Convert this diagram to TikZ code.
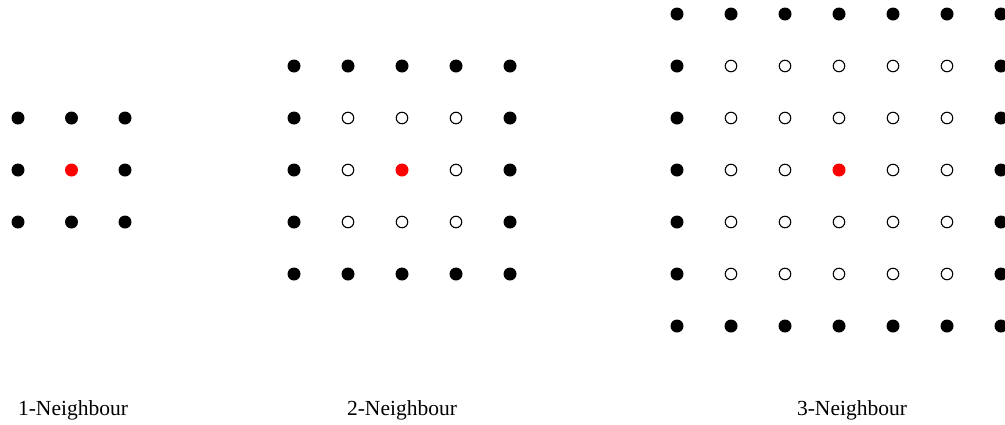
\documentclass[tikz,border=0pt]{standalone}
\usepackage{fontspec}
\setmainfont{Liberation Serif}
\begin{document}
\begin{tikzpicture}[x=1pt,y=-1pt,
  full/.style={circle,fill=black,inner sep=0pt,minimum size=13pt},
  hollow/.style={circle,draw=black,line width=1.1pt,fill=white,inner sep=0pt,minimum size=11.5pt},
  centre/.style={circle,fill=red,inner sep=0pt,minimum size=13pt},
  caption/.style={font=\fontsize{21.5}{25}\selectfont,inner sep=0pt}]
\useasboundingbox (0,0) rectangle (1005,424);
% 1-Neighbour
\foreach \i in {0,1,2}{
  \foreach \j in {0,1,2}{
    \pgfmathtruncatemacro{\ring}{max(abs(\i-1),abs(\j-1))}
    \ifnum\ring=0
      \node[centre] (a-\i-\j) at ({18+53.5*\i},{118+52*\j}) {};
    \else
      \node[full] (a-\i-\j) at ({18+53.5*\i},{118+52*\j}) {};
    \fi
  }
}
% 2-Neighbour
\foreach \i in {0,...,4}{
  \foreach \j in {0,...,4}{
    \pgfmathtruncatemacro{\ring}{max(abs(\i-2),abs(\j-2))}
    \ifnum\ring=0
      \node[centre] (b-\i-\j) at ({294+54*\i},{66+52*\j}) {};
    \else\ifnum\ring=2
      \node[full] (b-\i-\j) at ({294+54*\i},{66+52*\j}) {};
    \else
      \node[hollow] (b-\i-\j) at ({294+54*\i},{66+52*\j}) {};
    \fi\fi
  }
}
% 3-Neighbour
\foreach \i in {0,...,6}{
  \foreach \j in {0,...,6}{
    \pgfmathtruncatemacro{\ring}{max(abs(\i-3),abs(\j-3))}
    \ifnum\ring=0
      \node[centre] (c-\i-\j) at ({677+54*\i},{14+52*\j}) {};
    \else\ifnum\ring=3
      \node[full] (c-\i-\j) at ({677+54*\i},{14+52*\j}) {};
    \else
      \node[hollow] (c-\i-\j) at ({677+54*\i},{14+52*\j}) {};
    \fi\fi
  }
}
\node[caption] (l1) at (73,410.5) {1-Neighbour};
\node[caption] (l2) at (402,410.5) {2-Neighbour};
\node[caption] (l3) at (852,410.5) {3-Neighbour};
\end{tikzpicture}
\end{document}
